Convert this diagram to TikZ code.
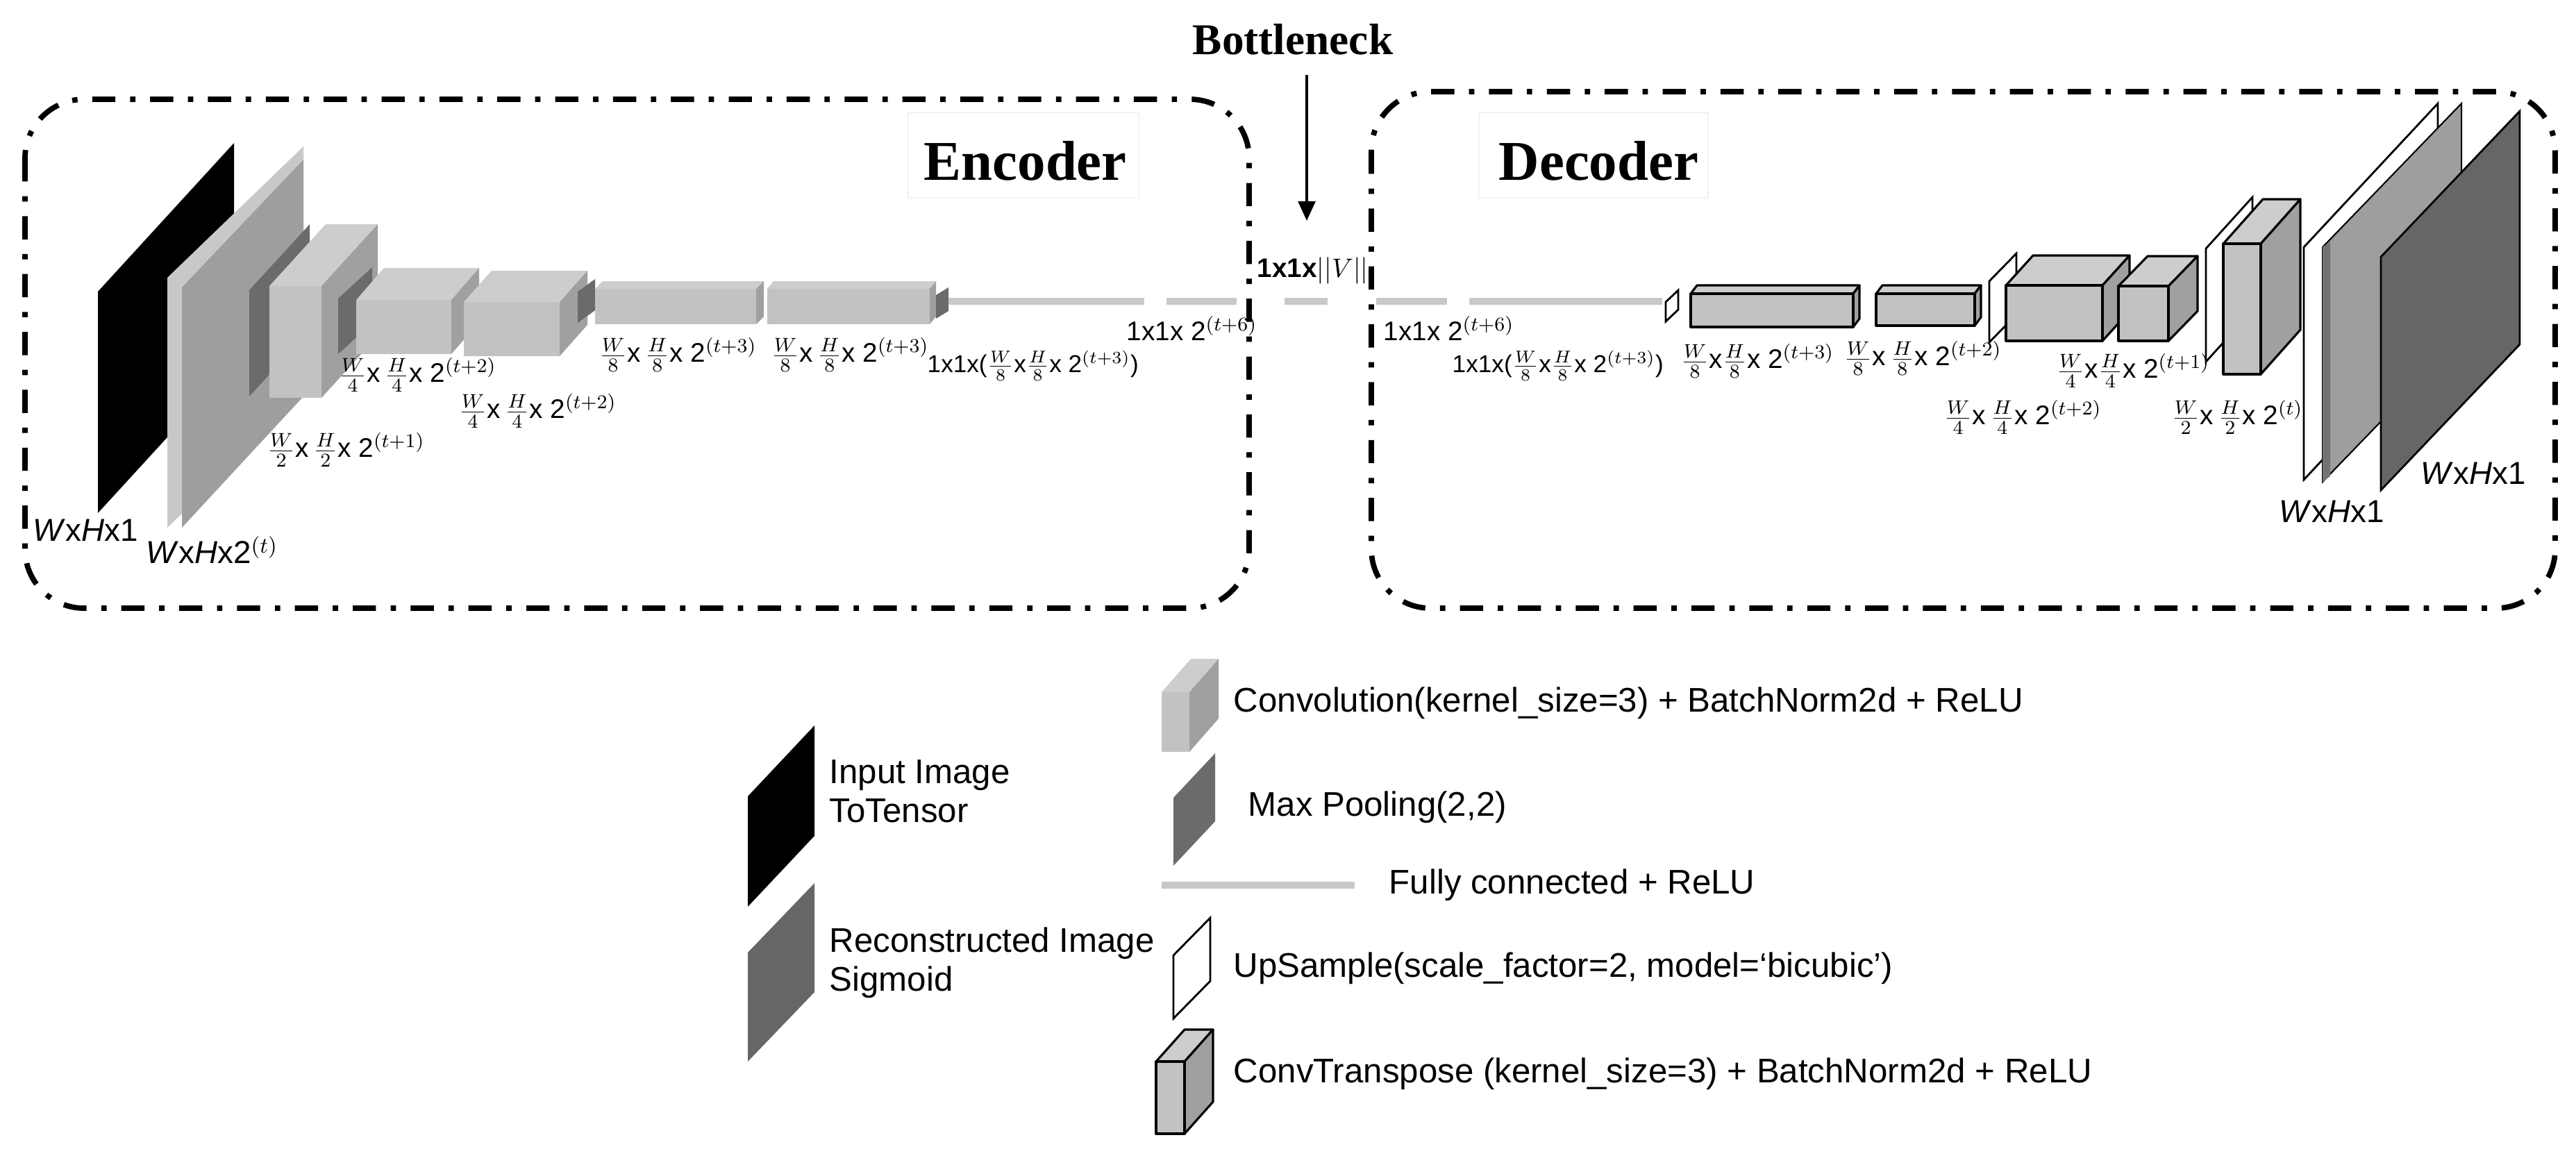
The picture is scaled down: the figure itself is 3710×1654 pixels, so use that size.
\documentclass[tikz,border=0pt]{standalone}
\usepackage{fontspec}
\setmainfont{Liberation Sans}
\newfontfamily\serifb{Liberation Serif}
\usetikzlibrary{arrows.meta}
\definecolor{cfront}{HTML}{C2C2C2}
\definecolor{ctop}{HTML}{CDCDCD}
\definecolor{cside}{HTML}{A0A0A0}
\definecolor{cpool}{HTML}{6B6B6B}
\definecolor{cplane}{HTML}{9E9E9E}
\definecolor{clight}{HTML}{C8C8C8}
\definecolor{cdark}{HTML}{666666}
\tikzset{
  efront/.style={fill=cfront,draw=none},
  etop/.style={fill=ctop,draw=none},
  eside/.style={fill=cside,draw=none},
  dfront/.style={fill=cfront,draw=black,line width=0.9pt,line join=round},
  dtop/.style={fill=ctop,draw=black,line width=0.9pt,line join=round},
  dside/.style={fill=cside,draw=black,line width=0.9pt,line join=round},
  pool/.style={fill=cpool,draw=none},
  upl/.style={fill=white,draw=black,line width=0.8pt},
  fc/.style={draw=clight,line width=2.8pt},
  grp/.style={draw=black,line width=2.2pt,rounded corners=0.85cm,
    dash pattern=on 9.5pt off 6pt on 2.2pt off 6pt},
  lab/.style={anchor=west,inner sep=0pt,font=\fontsize{11}{13}\selectfont},
  labs/.style={anchor=west,inner sep=0pt,font=\fontsize{10}{12}\selectfont},
  big/.style={anchor=west,inner sep=0pt,font=\fontsize{13}{15}\selectfont},
  leg/.style={anchor=west,inner sep=0pt,font=\fontsize{14}{16}\selectfont,align=left},
  title/.style={anchor=west,inner sep=0pt,font=\serifb\bfseries\fontsize{23}{26}\selectfont},
}
% cube: x y w h dx dy prefix
\newcommand\mycube[7]{%
  \path[#7top] (#1,#2) -- ++(#5,-#6) -- ++(#3,0) -- ++(-#5,#6) -- cycle;
  \path[#7side] ({#1+#3},#2) -- ++(#5,-#6) -- ++(0,#4) -- ++(-#5,#6) -- cycle;
  \path[#7front] (#1,#2) rectangle ++(#3,#4);}
% plane: x ytopleft w h dy style
\newcommand\myplane[6]{%
  \path[#6] (#1,{#2+#4}) -- (#1,#2) -- ({#1+#3},{#2-#5}) -- ({#1+#3},{#2-#5+#4}) -- cycle;}
\newcommand\dl[2]{$\frac{W}{#1}$x$\,\frac{H}{#1}$x 2$^{(t+#2)}$}
\newcommand\dlt[2]{$\frac{W}{#1}$x$\frac{H}{#1}$x 2$^{(t+#2)}$}
\begin{document}
\begin{tikzpicture}[x=0.01cm,y=-0.01cm]
\useasboundingbox (0,0) rectangle (3710,1654);
% group boxes
\draw[grp] (36,143) rectangle (1799,876);
\draw[grp] (1975,132) rectangle (3680,876);
\draw[draw=black!5,line width=0.4pt] (1308,162) rectangle (1640,285);
\draw[draw=black!5,line width=0.4pt] (2130,162) rectangle (2460,285);
\node[title] (enc) at (1330,232) {Encoder};
\node[title] (dec) at (2158,232) {Decoder};
\node[anchor=center,inner sep=0pt,font=\serifb\bfseries\fontsize{18}{20}\selectfont] (bn) at (1862,57) {Bottleneck};
\coordinate (bnstart) at (1882,108);
\coordinate (bntip) at (1882,318);
\draw[line width=1.2pt,-{Triangle[length=8pt,width=7pt]}] (bnstart) -- (bntip);
% encoder
\myplane{141}{420}{196}{319}{214}{fill=black}
\myplane{241}{400}{196}{360}{189}{fill=clight}
\path[fill=cplane] (262,760) -- (262,414) -- (437,230) -- (437,571) -- cycle;
\myplane{359}{418}{87}{153}{95}{pool}
\mycube{388}{412}{75}{161}{81}{89}{e}
\myplane{487}{430}{49}{80}{45}{pool}
\mycube{513}{432}{137}{78}{40}{46}{e}
\mycube{668}{435}{138}{78}{40}{45}{e}
\myplane{832}{420}{25}{45}{18}{pool}
\mycube{857}{416}{232}{51}{11}{11}{e}
\mycube{1105}{416}{234}{51}{9}{11}{e}
\myplane{1348}{425}{18}{34}{11}{pool}
% fully connected
\draw[fc] (1366,434) -- (1648,434);
\draw[fc] (1680,434) -- (1781,434);
\draw[fc] (1850,434) -- (1912,434);
\draw[fc] (1982,434) -- (2084,434);
\draw[fc] (2116,434) -- (2394,434);
% decoder
\myplane{2399}{435}{18}{28}{17}{upl}
\mycube{2435}{423}{234}{48}{9}{12}{d}
\mycube{2702}{423}{142}{46}{9}{12}{d}
\myplane{2865}{405}{39}{88}{40}{upl}
\mycube{2889}{411}{139}{80}{39}{43}{d}
\mycube{3051}{412}{72}{79}{42}{43}{d}
\myplane{3177}{358}{67}{163}{74}{upl}
\mycube{3202}{351}{54}{188}{57}{64}{d}
\myplane{3318}{356}{193}{335}{207}{upl}
\myplane{3345}{356}{200}{338}{207}{fill=cplane,draw=black,line width=0.6pt}
\path[fill=black!55] (3345,694) -- (3345,356) -- (3356,348) -- (3356,686) -- cycle;
\myplane{3429}{370}{200}{336}{210}{fill=cdark,draw=black,line width=0.8pt}
% labels encoder
\node[big] (l1) at (47,764) {\textit{W}x\textit{H}x1};
\node[big] (l2) at (210,792) {\textit{W}x\textit{H}x2$^{(t)}$};
\node[lab] (l3) at (384,648) {\dl{2}{1}};
\node[lab] (l4) at (487,540) {\dl{4}{2}};
\node[lab] (l5) at (660,592) {\dl{4}{2}};
\node[lab] (l6) at (862,511) {\dl{8}{3}};
\node[lab] (l7) at (1110,511) {\dl{8}{3}};
\node[labs] (l8) at (1335,527) {1x1x(\dlt{8}{3})};
\node[lab] (l9) at (1622,473) {1x1x 2$^{(t+6)}$};
\node[lab] (lv) at (1810,390) {\textbf{1x1x}$||V||$};
% labels decoder
\node[lab] (d1) at (1992,473) {1x1x 2$^{(t+6)}$};
\node[labs] (d2) at (2091,527) {1x1x(\dlt{8}{3})};
\node[lab] (d3) at (2420,520) {\dlt{8}{3}};
\node[lab] (d4) at (2655,516) {\dl{8}{2}};
\node[lab] (d5) at (2961,534) {\dlt{4}{1}};
\node[lab] (d6) at (2799,601) {\dl{4}{2}};
\node[lab] (d7) at (3127,601) {$\frac{W}{2}$x$\,\frac{H}{2}$x 2$^{(t)}$};
\node[big] (d8) at (3282,737) {\textit{W}x\textit{H}x1};
\node[big] (d9) at (3486,682) {\textit{W}x\textit{H}x1};
% legend
\myplane{1077}{1147}{96}{159}{102}{fill=black}
\myplane{1077}{1372}{96}{157}{100}{fill=cdark}
\node[leg] (t1) at (1194,1140) {Input Image\\ToTensor};
\node[leg] (t2) at (1194,1387) {Reconstructed Image\\Sigmoid};
\mycube{1673}{997}{40}{86}{42}{48}{e}
\node[leg] (t3) at (1776,1013) {Convolution(kernel\_size=3) + BatchNorm2d + ReLU};
\myplane{1690}{1149}{60}{98}{64}{pool}
\node[leg] (t4) at (1797,1163) {Max Pooling(2,2)};
\draw[fc] (1673,1275) -- (1951,1275);
\node[leg] (t5) at (2000,1275) {Fully connected + ReLU};
\myplane{1690}{1376}{53}{91}{54}{upl}
\node[leg] (t6) at (1776,1395) {UpSample(scale\_factor=2, model=`bicubic')};
\mycube{1665}{1529}{41}{104}{41}{46}{d}
\node[leg] (t7) at (1776,1547) {ConvTranspose (kernel\_size=3) + BatchNorm2d + ReLU};
\end{tikzpicture}
\end{document}
